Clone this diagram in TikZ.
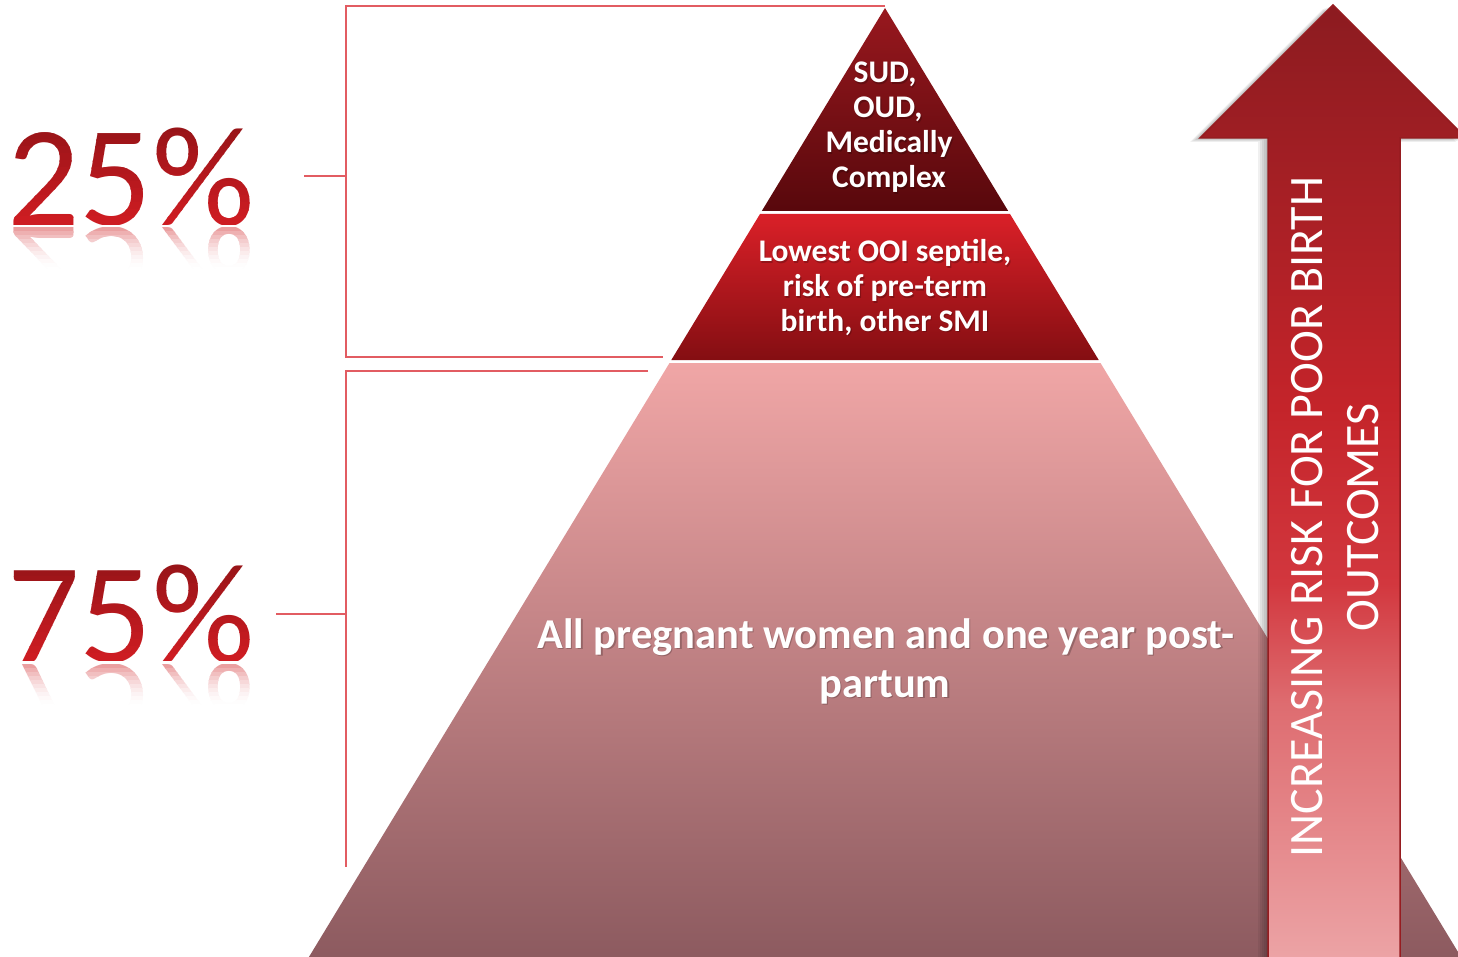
\documentclass[tikz,border=0pt]{standalone}
\usepackage{fontspec}
\setmainfont{Carlito}
\definecolor{brk}{RGB}{226,92,98}
\definecolor{pcTop}{RGB}{152,20,24}
\definecolor{pcBot}{RGB}{205,28,34}
\definecolor{refl}{RGB}{232,148,150}
\definecolor{tAtop}{RGB}{152,24,30}
\definecolor{tAbot}{RGB}{88,8,12}
\definecolor{tBtop}{RGB}{218,32,40}
\definecolor{tBbot}{RGB}{132,14,18}
\definecolor{tCtop}{RGB}{240,166,166}
\definecolor{tCmid}{RGB}{205,138,140}
\definecolor{tCbot}{RGB}{140,90,95}
\definecolor{arA}{RGB}{140,27,32}
\definecolor{arB}{RGB}{196,36,42}
\definecolor{arC}{RGB}{210,55,62}
\definecolor{arD}{RGB}{222,108,112}
\definecolor{arE}{RGB}{236,164,166}
\definecolor{arEdge}{RGB}{150,28,32}
\pgfdeclareverticalshading{arrowshade}{100bp}{color(0bp)=(arE); color(25bp)=(arE); color(38.5bp)=(arD); color(44.8bp)=(arC); color(54bp)=(arB); color(75bp)=(arA); color(100bp)=(arA)}
\tikzset{
  brkline/.style={draw=brk, line width=2pt},
  tierfont/.style={font=\bfseries\fontsize{31.5}{35}\selectfont, inner sep=0pt, anchor=base},
  basefont/.style={font=\bfseries\fontsize{42.5}{49}\selectfont, inner sep=0pt, anchor=base},
  arrfont/.style={font=\fontsize{48}{56}\selectfont, inner sep=0pt, anchor=base, rotate=90, text=white},
  pct/.style={font=\fontsize{143}{143}\selectfont, inner sep=0pt, anchor=base west},
}
\newcommand\tline[4]{%
  \node[#1, text=black, opacity=0.22, xshift=1.2pt, yshift=-1.2pt] (#2s) at (#3) {#4};
  \node[#1, text=white] (#2) at (#3) {#4};}
\begin{document}
\begin{tikzpicture}[x=1pt,y=-1pt]
\useasboundingbox (0,0) rectangle (1458,957);
\fill[white] (0,0) rectangle (1458,957);
\clip (0,0) rectangle (1458,957);

% brackets
\coordinate (b1a) at (885,6); \coordinate (b1b) at (346,6);
\coordinate (b1c) at (346,357); \coordinate (b1d) at (663,357);
\coordinate (t1a) at (304,176); \coordinate (t1b) at (346,176);
\coordinate (b2a) at (648,371); \coordinate (b2b) at (346,371);
\coordinate (b2c) at (346,867);
\coordinate (t2a) at (276,614); \coordinate (t2b) at (346,614);
\draw[brkline] (b1a) -- (b1b) -- (b1c) -- (b1d);
\draw[brkline] (t1a) -- (t1b);
\draw[brkline] (b2a) -- (b2b) -- (b2c);
\draw[brkline] (t2a) -- (t2b);

% pyramid tiers
\shade[top color=tAtop, bottom color=tAbot] (885,8) -- (761.8,211) -- (1008.2,211) -- cycle;
\shade[top color=tBtop, bottom color=tBbot] (760,214) -- (1010,214) -- (1098.7,360) -- (671.3,360) -- cycle;
\shade[top color=tCtop, middle color=tCmid, bottom color=tCbot] (669.5,363) -- (1100.5,363) -- (1462.9,960) -- (307.1,960) -- cycle;

% pyramid text
\tline{tierfont}{a1}{885,83}{SUD,}
\tline{tierfont}{a2}{888,118}{OUD,}
\tline{tierfont}{a3}{889,153}{Medically}
\tline{tierfont}{a4}{889,188}{Complex}
\tline{tierfont}{m1}{885,262}{Lowest OOI septile,}
\tline{tierfont}{m2}{885,297}{risk of pre-term}
\tline{tierfont}{m3}{885,331}{birth, other SMI}
\tline{basefont}{l1}{886,648}{All pregnant women and one year post-}
\tline{basefont}{l2}{885,697}{partum}

% arrow shadow
\foreach \d in {2,4,6,8,10}{
  \begin{scope}[shift={(-\d,0.4*\d)}]
  \fill[black, opacity=0.06] (1333,5) -- (1466,138) -- (1400,138) -- (1400,962) -- (1268,962) -- (1268,138) -- (1200,138) -- cycle;
  \end{scope}}
% arrow
\path[shading=arrowshade, draw=arEdge, line width=1.5pt] (1333,5) -- (1466,138) -- (1400,138) -- (1400,962) -- (1268,962) -- (1268,138) -- (1200,138) -- cycle;
\node[arrfont] (ar1) at (1322,517) {INCREASING RISK FOR POOR BIRTH};
\node[arrfont] (ar2) at (1378,517) {OUTCOMES};

% percentages with gradient
\foreach \yb/\lab in {226/25, 662/75}{
  \foreach \i in {0,...,13}{
    \pgfmathsetmacro\ya{\yb-100+7*\i}
    \pgfmathsetmacro\yc{\ya+7.6}
    \pgfmathtruncatemacro\p{100-100*\i/13}
    \begin{scope}
      \clip (0,\ya) rectangle (300,\yc);
      \node[pct, text=pcTop!\p!pcBot] (p\lab-\i) at (7,\yb) {\lab\%};
    \end{scope}}
  \foreach \i in {0,...,11}{
    \pgfmathsetmacro\ya{\yb+2+4*\i}
    \pgfmathsetmacro\yc{\ya+4.6}
    \pgfmathtruncatemacro\p{90*(1-\i/11)*(1-\i/11)}
    \begin{scope}
      \clip (0,\ya) rectangle (300,\yc);
      \node[pct, yscale=-1, text=refl!\p!white] (r\lab-\i) at (7,\yb+2) {\lab\%};
    \end{scope}}
}
\end{tikzpicture}
\end{document}
